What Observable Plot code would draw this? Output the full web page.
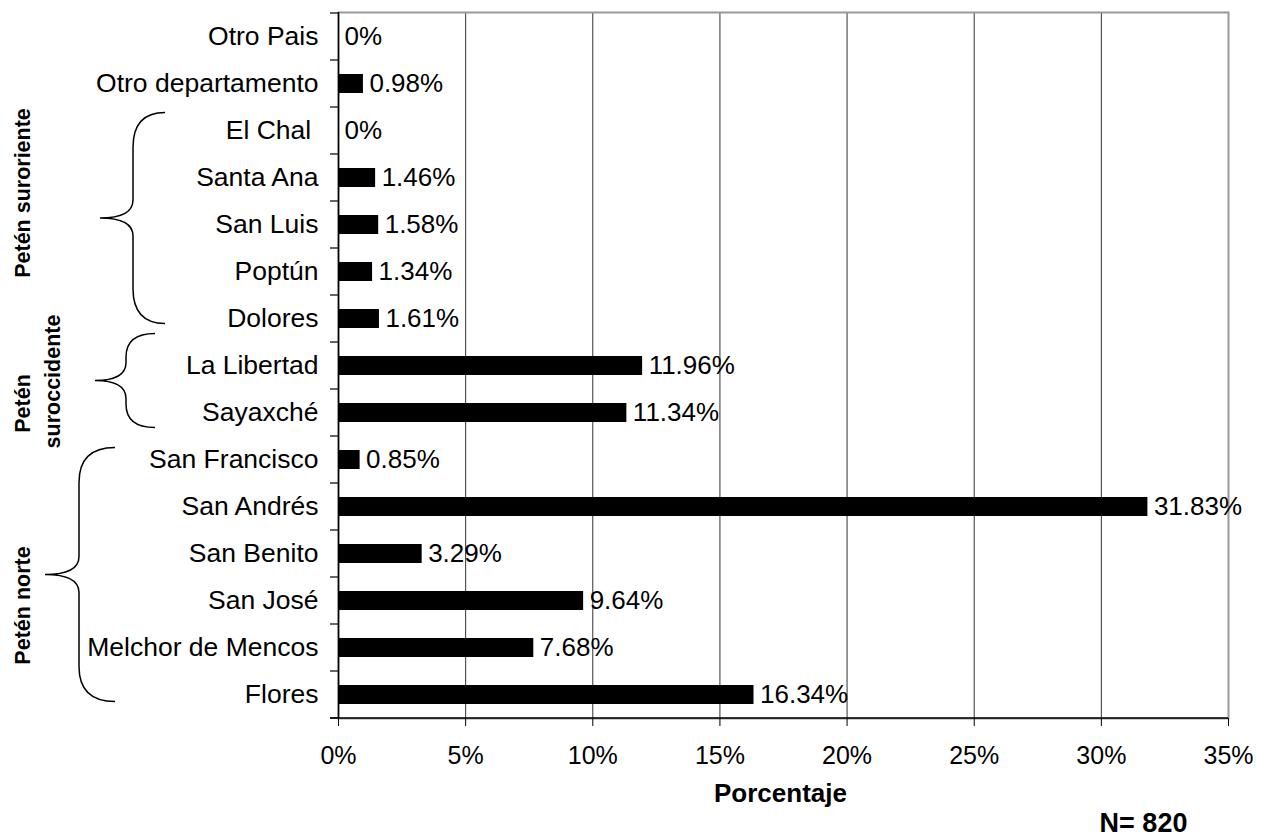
<!DOCTYPE html>
<html>
<head>
<meta charset="utf-8">
<script src="https://cdn.jsdelivr.net/npm/d3@7"></script>
<script src="https://cdn.jsdelivr.net/npm/@observablehq/plot@0.6"></script>
<style>
  body { margin: 0; background: #fff; }
  svg { font-family: "Liberation Sans", Arial, sans-serif; }
</style>
</head>
<body>
<div id="chart"></div>
<script>
// Lugar de procedencia, de arriba hacia abajo
const lugares = [
  "Otro Pais", "Otro departamento", "El Chal", "Santa Ana", "San Luis", "Poptún",
  "Dolores", "La Libertad", "Sayaxché", "San Francisco", "San Andrés", "San Benito",
  "San José", "Melchor de Mencos", "Flores"
];
const porcentajes = [0, 0.98, 0, 1.46, 1.58, 1.34, 1.61, 11.96, 11.34, 0.85, 31.83, 3.29, 9.64, 7.68, 16.34];
const xTicks = [0, 5, 10, 15, 20, 25, 30, 35];

// Regiones agrupadas con llaves a la izquierda
const regiones = [["Petén suroriente"], ["Petén", "suroccidente"], ["Petén norte"]];
const regionDesde = ["El Chal", "La Libertad", "San Francisco"];
const regionHasta = ["Dolores", "Sayaxché", "Flores"];

const ejeX = "Porcentaje";
const muestra = "N= 820";

const rows = lugares.map((lugar, i) => ({lugar, pct: porcentajes[i]}));
const fmt = v => v === 0 ? "0%" : v.toFixed(2) + "%";

const plot = Plot.plot({
  width: 1271,
  height: 836,
  marginLeft: 338,
  marginRight: 43,
  marginTop: 12,
  marginBottom: 118,
  style: {fontFamily: "'Liberation Sans', Arial, sans-serif", fontSize: "25px", color: "#000", background: "#fff", overflow: "visible"},
  x: {domain: [0, 35]},
  y: {domain: lugares, paddingInner: 0.6, paddingOuter: 0.3},
  marks: [
    Plot.gridX({ticks: xTicks.filter(t => t > 0 && t < 35), stroke: "#333", strokeOpacity: 1}),
    Plot.frame({stroke: "#999", strokeWidth: 2}),
    Plot.barX(rows, {x: "pct", y: "lugar", fill: "#000"}),
    Plot.text(rows, {x: "pct", y: "lugar", text: d => fmt(d.pct), textAnchor: "start", dx: 6, fontSize: 26, fill: "#000"}),
    Plot.ruleX([0], {stroke: "#000", strokeWidth: 1.5}),
    Plot.axisX({ticks: xTicks, tickFormat: d => d + "%", tickSize: 8, tickPadding: 20, fontSize: 25, label: null, stroke: "#000"}),
    Plot.axisY({tickSize: 0, tickPadding: 20, fontSize: 26.5, label: null,
      tickFormat: d => d === "El Chal" ? "El Chal\u00a0" : d}),
    Plot.text([ejeX], {frameAnchor: "bottom", text: d => d, dx: -3, dy: 83, fontWeight: "bold", fontSize: 26, fill: "#000"}),
    Plot.text([muestra], {frameAnchor: "bottom-right", text: d => d, dx: -85, dy: 113, textAnchor: "middle", fontWeight: "bold", fontSize: 27, fill: "#000"})
  ]
});

document.getElementById("chart").appendChild(plot);

// Línea base, marcas entre categorías y llaves de regiones
const svg = d3.select(plot);
const x = plot.scale("x");
const y = plot.scale("y");
const x0 = x.apply(0), x1 = x.apply(35);
const [yTop, yBottom] = y.range;
const gap = (y.step - y.bandwidth) / 2;
const center = name => y.apply(name) + y.bandwidth / 2;

const g = svg.append("g");
g.append("line")
  .attr("x1", x0 - 8).attr("x2", x1).attr("y1", yBottom).attr("y2", yBottom)
  .attr("stroke", "#000").attr("stroke-width", 1.5);

d3.range(lugares.length + 1).forEach(i => {
  const b = y.apply(lugares[0]) - gap + i * y.step;
  g.append("line")
    .attr("x1", x0 - 8).attr("x2", x0).attr("y1", b).attr("y2", b)
    .attr("stroke", "#000").attr("stroke-width", 1.2);
});

// Geometría de cada llave: extremos, recta vertical y punta (en px)
const llaves = [
  {top: -18, bottom: 5, xe: 165, xv: 133, xt: 100, label: [{x: 23, dy: -25}]},
  {top: -32, bottom: 15, xe: 155, xv: 126, xt: 95, label: [{x: 23, dy: 23}, {x: 53, dy: 1}]},
  {top: -12, bottom: 7, xe: 115, xv: 79, xt: 45, label: [{x: 23, dy: 31}]}
];

function bracePath(xe, xv, xt, yt, yb) {
  const ym = (yt + yb) / 2;
  const r = Math.min(35, (yb - yt) / 4);
  const rm = 18;
  return `M${xe},${yt} Q${xv},${yt} ${xv},${yt + r} L${xv},${ym - rm} Q${xv},${ym} ${xt},${ym}` +
         ` Q${xv},${ym} ${xv},${ym + rm} L${xv},${yb - r} Q${xv},${yb} ${xe},${yb}`;
}

regiones.forEach((lineas, i) => {
  const s = llaves[i];
  const yt = center(regionDesde[i]) + s.top;
  const yb = center(regionHasta[i]) + s.bottom;
  const ym = (yt + yb) / 2;
  g.append("path")
    .attr("d", bracePath(s.xe, s.xv, s.xt, yt, yb))
    .attr("fill", "none").attr("stroke", "#000").attr("stroke-width", 1.5);
  lineas.forEach((txt, j) => {
    const p = s.label[j];
    g.append("text")
      .attr("transform", `translate(${p.x},${ym + p.dy}) rotate(-90)`)
      .attr("text-anchor", "middle")
      .attr("dominant-baseline", "central")
      .attr("font-weight", "bold")
      .attr("font-size", 21.5)
      .attr("fill", "#000")
      .text(txt);
  });
});
</script>
</body>
</html>
